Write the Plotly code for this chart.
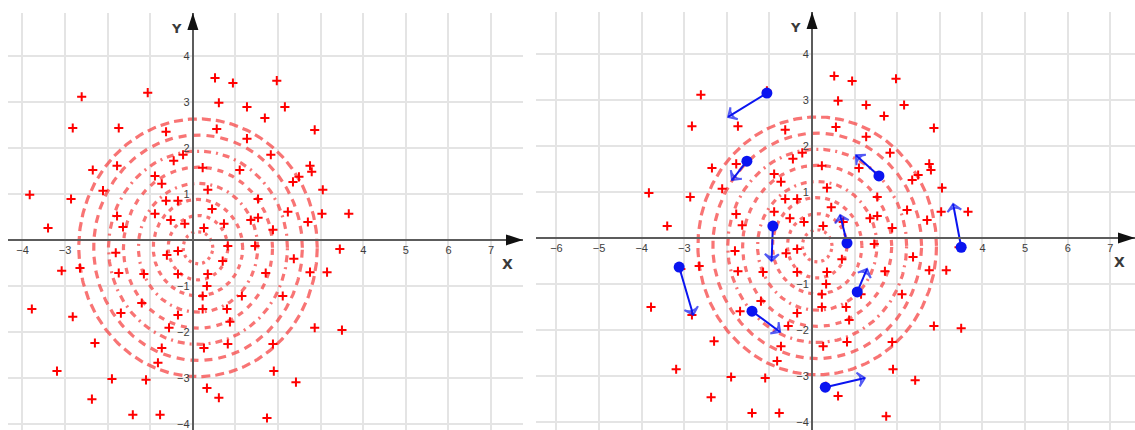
import numpy as np
import plotly.graph_objects as go

# Scattered sample points (shared by both panels)
pts_x = [0.52, 0.94, 1.97, -2.61, -1.06, 0.61, 1.27, 1.69, -2.82, -1.74,
         -0.63, 0.56, 1.27, 1.83, -0.23, -0.45, -1.78, -2.35, 0.23, 1.10,
         -0.89, -0.73, -2.11, 0.35, -3.83, -2.86, -0.63, -0.35, 1.53, 0.45,
         2.16, 2.86, 2.75, 2.79, 2.35, 2.49, 3.05, 2.23, 3.03, 3.66,
         -1.78, -0.89, -0.52, -0.19, -1.64, 1.36, 1.53, 0.73, 2.70, 0.26,
         1.88, -3.40, 0.82, 1.46, -1.81, -0.61, -0.35, 0.70, -3.08, -2.65,
         -1.74, -1.15, -0.35, 0.35, 1.71, 0.33, 1.15, -1.20, -3.78, 0.23,
         0.80, -1.69, -2.82, -0.35, 0.87, -0.56, -2.30, -0.73, 0.26, 0.82,
         1.88, -0.82, -3.19, -1.90, -1.10, 1.90, 0.33, 0.61, -2.37, -1.41,
         -0.77, 1.74, 2.37, 2.75, 3.15, 0.23, 2.11, 2.86, 2.42, 3.45, 3.50]
pts_y = [3.52, 3.41, 3.46, 3.11, 3.20, 2.98, 2.89, 2.65, 2.43, 2.43,
         2.35, 2.41, 2.20, 1.85, 1.85, 1.72, 1.61, 1.52, 1.57, 1.52,
         1.39, 1.22, 1.07, 1.09, 0.98, 0.89, 0.85, 0.85, 0.89, 0.67,
         2.89, 2.39, 1.61, 1.48, 1.26, 1.37, 1.09, 0.61, 0.57, 0.57,
         0.52, 0.57, 0.43, 0.35, 0.28, 0.43, 0.48, 0.35, 0.39, 0.26,
         0.22, 0.26, -0.13, -0.13, -0.28, -0.33, -0.24, -0.46, -0.67, -0.61,
         -0.72, -0.74, -0.74, -0.74, -0.72, -1.00, -1.22, -1.37, -1.50, -1.50,
         -1.50, -1.59, -1.67, -1.63, -1.78, -1.91, -2.24, -2.35, -2.35, -2.26,
         -2.26, -2.67, -2.85, -3.02, -3.04, -2.85, -3.22, -3.43, -3.46, -3.80,
         -3.80, -3.87, -0.41, -0.70, -0.70, -1.22, -1.22, -1.91, -3.09, -0.20, -1.96]

# Concentric rings
ring_cx, ring_cy = 0.12, -0.17
ring_radii = [0.35, 0.70, 1.05, 1.40, 1.75, 2.10, 2.45, 2.80]
ring_dash = ["3px,4px", "4px,5px", "5px,5px", "6px,5px,2px,5px",
             "6px,6px", "7px,5px,2px,5px", "8px,6px", "9px,5px"]

# Selected points (blue) and where they move to
mv_x0 = [-1.06, -1.53, 1.57, -0.92, 0.82, 3.50, -3.12, -1.41, 1.06, 0.31]
mv_y0 = [3.15, 1.67, 1.35, 0.26, -0.11, -0.20, -0.63, -1.59, -1.17, -3.24]
mv_x1 = [-1.97, -1.88, 1.03, -0.95, 0.66, 3.31, -2.79, -0.75, 1.29, 1.24]
mv_y1 = [2.63, 1.26, 1.80, -0.50, 0.50, 0.74, -1.67, -2.04, -0.67, -3.04]

# Axis tick labels that are shown (others left blank)
left_xlabels = [-4, -3, 4, 5, 6, 7]
right_xlabels = [-6, -5, -4, -3, 4, 5, 6, 7]
ylabels = [-4, -3, -2, -1, 1, 2, 3, 4]

W, H = 1135, 430
panels = [
    dict(px=(8, 523), top=13, xr=(-4.34, 7.75), yr=(-4.13, 4.93), xl=left_xlabels),
    dict(px=(536, 1135), top=12, xr=(-6.48, 7.58), yr=(-4.17, 4.91), xl=right_xlabels),
]

BLUE = "#0a14f0"
fig = go.Figure()
layout = dict(width=W, height=H, margin=dict(l=0, r=0, t=0, b=0),
              paper_bgcolor="white", plot_bgcolor="white", showlegend=False)
shapes, annos = [], []
tick_font = dict(family="Liberation Sans, Arial, sans-serif", size=11, color="#3c3c3c")


def fmt(v, shown):
    if v not in shown:
        return ""
    return "\u2212" + str(-v) if v < 0 else str(v)


t = np.linspace(0, 2 * np.pi, 361)
for i, p in enumerate(panels):
    sfx = "" if i == 0 else str(i + 1)
    xa, ya = "x" + sfx, "y" + sfx
    dx = (p["px"][0] / W, p["px"][1] / W)
    dy = (0.0, 1 - p["top"] / H)
    xr, yr = p["xr"], p["yr"]
    ppx = (p["px"][1] - p["px"][0]) / (xr[1] - xr[0])
    ppy = (H - p["top"]) / (yr[1] - yr[0])
    x0_paper = dx[0] + (0 - xr[0]) / (xr[1] - xr[0]) * (dx[1] - dx[0])
    y0_paper = dy[0] + (0 - yr[0]) / (yr[1] - yr[0]) * (dy[1] - dy[0])

    xt = list(range(int(np.ceil(xr[0])), int(np.floor(xr[1])) + 1))
    yt = list(range(int(np.ceil(yr[0])), int(np.floor(yr[1])) + 1))
    common = dict(ticks="", showgrid=True, gridcolor="#e4e4e4", gridwidth=1.6,
                  zeroline=False, showline=True, linecolor="#5c5c5c", linewidth=2.2,
                  tickfont=tick_font, fixedrange=True)
    layout["xaxis" + sfx] = dict(domain=dx, range=xr, anchor="free", position=y0_paper,
                                 tickvals=xt, ticktext=[fmt(v, p["xl"]) for v in xt], **common)
    layout["yaxis" + sfx] = dict(domain=dy, range=yr, anchor="free", position=x0_paper,
                                 tickvals=yt, ticktext=[fmt(v, ylabels) for v in yt], **common)

    # rings
    for r, d in zip(ring_radii, ring_dash):
        fig.add_trace(go.Scatter(
            x=ring_cx + r * np.cos(t), y=ring_cy + r * np.sin(t),
            mode="lines", line=dict(color="rgba(245,70,70,0.75)", width=3.2, dash=d),
            xaxis=xa, yaxis=ya, hoverinfo="skip"))

    # sample points
    fig.add_trace(go.Scatter(
        x=pts_x, y=pts_y, mode="markers",
        marker=dict(symbol="cross-thin", size=6.5, line=dict(width=2, color="#ff0000")),
        xaxis=xa, yaxis=ya))

    # arrowheads on the axes
    L, h = 17, 5.5
    shapes.append(dict(type="path", xref=xa, yref=ya, layer="above",
                       path=f"M {xr[1]},0 L {xr[1] - L / ppx},{h / ppy} L {xr[1] - L / ppx},{-h / ppy} Z",
                       fillcolor="#111", line=dict(width=0)))
    shapes.append(dict(type="path", xref=xa, yref=ya, layer="above",
                       path=f"M 0,{yr[1]} L {h / ppx},{yr[1] - L / ppy} L {-h / ppx},{yr[1] - L / ppy} Z",
                       fillcolor="#111", line=dict(width=0)))

    # axis names
    annos.append(dict(x=xr[1] - 0.36, y=-0.52, xref=xa, yref=ya, text="<b>X</b>",
                      showarrow=False, font=dict(family="DejaVu Sans, sans-serif", size=14, color="#3a3a3a")))
    annos.append(dict(x=-0.38, y=yr[1] - 0.33, xref=xa, yref=ya, text="<b>Y</b>",
                      showarrow=False, font=dict(family="DejaVu Sans, sans-serif", size=13, color="#3a3a3a")))

    if i == 1:
        # movement arrows
        for a, b, c, d in zip(mv_x0, mv_y0, mv_x1, mv_y1):
            fig.add_trace(go.Scatter(
                x=[a, c], y=[b, d], mode="lines+markers",
                line=dict(color=BLUE, width=2),
                marker=dict(symbol="arrow-wide-open", size=[0, 10], angleref="previous",
                            color=BLUE, line=dict(width=2, color=BLUE)),
                xaxis=xa, yaxis=ya, hoverinfo="skip"))
        # selected points
        fig.add_trace(go.Scatter(
            x=mv_x0, y=mv_y0, mode="markers",
            marker=dict(symbol="circle", size=11, color=BLUE),
            xaxis=xa, yaxis=ya))

layout["shapes"] = shapes
layout["annotations"] = annos
fig.update_layout(**layout)
fig.write_html("out.html")
